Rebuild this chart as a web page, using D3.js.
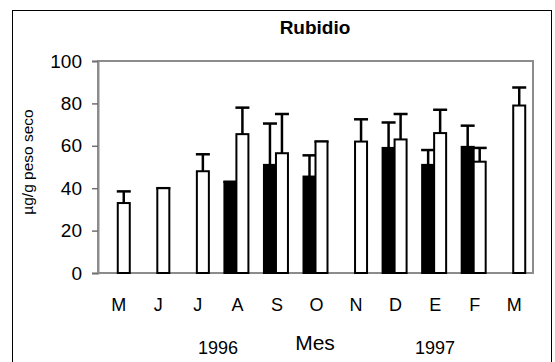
<!DOCTYPE html>
<html>
<head>
<meta charset="utf-8">
<script src="https://cdn.jsdelivr.net/npm/d3@7"></script>
<style>
  body { margin: 0; background: #fff; }
  text { font-family: "Liberation Sans", Arial, sans-serif; fill: #000; }
</style>
</head>
<body>
<div id="chart"></div>
<script>
// months May 1996 .. March 1997
var months = ['M', 'J', 'J', 'A', 'S', 'O', 'N', 'D', 'E', 'F', 'M'];
// black series (null = no sample)
var blackVals = [null, null, null, 43, 51, 45.5, null, 59, 51, 59.5, null];
var blackErr  = [null, null, null, 0, 19.5, 10, null, 12, 7, 10, null];
// white series
var whiteVals = [33, 40, 48, 65.5, 56.5, 62, 62, 63, 66, 52.5, 79];
var whiteErr  = [5.5, 0, 8, 12.5, 18.5, 0, 10.5, 12, 11, 6.5, 8.5];
var yTicks = [0, 20, 40, 60, 80, 100];

var width = 555,
    height = 362,
    svg = d3.select('#chart').append('svg')
      .attr('width', width)
      .attr('height', height);

svg.append('rect')
  .attr('x', 12.5).attr('y', 10.5)
  .attr('width', 539).attr('height', 360)
  .attr('fill', 'none').attr('stroke', '#000').attr('stroke-width', 1);

var plotL = 98, plotR = 533, plotT = 61, plotB = 273;

var x = d3.scaleBand()
  .domain(d3.range(months.length))
  .range([plotL, plotR]);

var y = d3.scaleLinear()
  .domain([0, 100])
  .range([plotB, plotT]);

var barW = 12;

// plot frame (grey)
svg.append('path')
  .attr('d', 'M' + plotL + ',' + plotT + 'H' + plotR + 'V' + plotB + 'H' + plotL + 'Z')
  .attr('fill', 'none').attr('stroke', '#8c8c8c').attr('stroke-width', 2);

var yAxis = svg.append('g')
  .attr('transform', 'translate(' + plotL + ',0)')
  .call(d3.axisLeft(y).tickValues(yTicks).tickSize(6).tickPadding(10));
yAxis.select('.domain').attr('stroke', '#8c8c8c').attr('stroke-width', 2);
yAxis.selectAll('.tick line').attr('stroke', '#707070').attr('stroke-width', 1.5);
yAxis.selectAll('.tick text').style('font-size', '19px').style('font-family', '"Liberation Sans", Arial, sans-serif');

function drawSeries(vals, errs, offset, fill) {
  var data = vals.map(function(v, i) { return {i: i, v: v, e: errs[i]}; })
    .filter(function(d) { return d.v != null; });
  var g = svg.append('g');
  var cx = function(d) { return x(d.i) + x.bandwidth() / 2 + offset; };
  g.selectAll('line.err')
    .data(data).enter().append('line')
    .attr('x1', cx).attr('x2', cx)
    .attr('y1', function(d) { return y(d.v); })
    .attr('y2', function(d) { return y(d.v + d.e); })
    .attr('stroke', '#000').attr('stroke-width', 2.5);
  g.selectAll('line.cap')
    .data(data).enter().append('line')
    .attr('x1', function(d) { return cx(d) - 7; })
    .attr('x2', function(d) { return cx(d) + 7; })
    .attr('y1', function(d) { return y(d.v + d.e); })
    .attr('y2', function(d) { return y(d.v + d.e); })
    .attr('stroke', '#000').attr('stroke-width', 2.5);
  g.selectAll('rect')
    .data(data).enter().append('rect')
    .attr('x', function(d) { return cx(d) - barW / 2; })
    .attr('y', function(d) { return y(d.v); })
    .attr('width', barW)
    .attr('height', function(d) { return y(0) - y(d.v); })
    .attr('fill', fill)
    .attr('stroke', '#000').attr('stroke-width', 2);
}

drawSeries(blackVals, blackErr, -6, '#000');
drawSeries(whiteVals, whiteErr, 6, '#fff');

// x labels
svg.append('g').selectAll('text')
  .data(months).enter().append('text')
  .attr('x', function(d, i) { return x(i) + x.bandwidth() / 2 + 1; })
  .attr('y', 311)
  .attr('text-anchor', 'middle')
  .style('font-size', '18px')
  .text(function(d) { return d; });

svg.append('text')
  .attr('x', 218).attr('y', 354)
  .attr('text-anchor', 'middle')
  .style('font-size', '18px')
  .text('1996');
svg.append('text')
  .attr('x', 435).attr('y', 354)
  .attr('text-anchor', 'middle')
  .style('font-size', '18px')
  .text('1997');
svg.append('text')
  .attr('x', 315).attr('y', 350)
  .attr('text-anchor', 'middle')
  .style('font-size', '21px')
  .text('Mes');

svg.append('text')
  .attr('x', 315).attr('y', 34)
  .attr('text-anchor', 'middle')
  .style('font-size', '19px')
  .style('font-weight', 'bold')
  .text('Rubidio');

svg.append('text')
  .attr('transform', 'translate(33,162) rotate(-90)')
  .attr('text-anchor', 'middle')
  .style('font-size', '15.5px')
  .text('µg/g peso seco');
</script>
</body>
</html>
